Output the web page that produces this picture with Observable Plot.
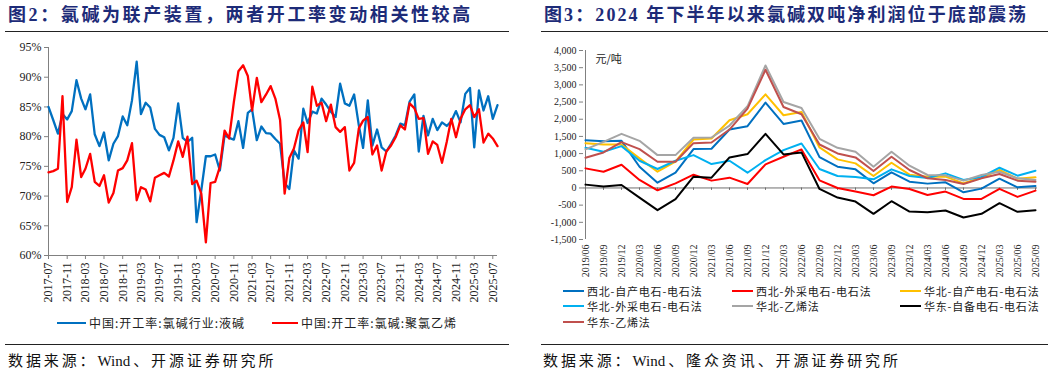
<!DOCTYPE html>
<html><head><meta charset="utf-8">
<script src="https://cdn.jsdelivr.net/npm/d3@7"></script>
<script src="https://cdn.jsdelivr.net/npm/@observablehq/plot@0.6"></script>
<style>
body{margin:0;background:#fff;width:1057px;height:374px;overflow:hidden;position:relative;font-family:"Liberation Serif","Noto Sans CJK SC",serif;}
.abs{position:absolute;}
.title{font-weight:bold;font-size:18px;line-height:20px;color:#1d2b78;white-space:nowrap;}
.hr{position:absolute;height:0;border-top:1.5px solid #222;}
.src{font-size:15px;line-height:18px;color:#111;letter-spacing:2.9px;white-space:nowrap;}
.src .lat{letter-spacing:0;margin-right:2.9px;}
.leg{font-size:12px;line-height:14px;color:#222;white-space:nowrap;display:flex;align-items:center;letter-spacing:1px;}
.leg2{font-size:11px;line-height:14px;color:#222;white-space:nowrap;display:flex;align-items:center;letter-spacing:0.8px;}
.sw{display:inline-block;height:2.5px;margin-right:3px;}
</style></head><body>
<div class="abs title" style="left:8px;top:5px;letter-spacing:2.6px">图2：氯碱为联产装置，两者开工率变动相关性较高</div>
<div class="hr" style="left:5px;top:31px;width:504px"></div>
<div class="abs title" style="left:544px;top:5px;letter-spacing:2.1px">图3：2024 年下半年以来氯碱双吨净利润位于底部震荡</div>
<div class="hr" style="left:541px;top:31px;width:507px"></div>
<div id="left" class="abs" style="left:0;top:40px"></div>
<div id="right" class="abs" style="left:535px;top:40px"></div>
<div id="leg1" class="abs" style="left:0;top:316px"></div>
<div id="leg2" class="abs" style="left:0;top:0"></div>
<div class="hr" style="left:5px;top:344px;width:504px"></div>
<div class="hr" style="left:541px;top:344px;width:507px"></div>
<div class="abs src" style="left:8px;top:352px">数据来源：<span class="lat">Wind</span>、开源证券研究所</div>
<div class="abs src" style="left:543px;top:352px">数据来源：<span class="lat">Wind</span>、隆众资讯、开源证券研究所</div>
<script>
// ---------- Left chart data (monthly, from 2017-07) ----------
const leftStart = "2017-07";
const liquidCaustic = [85.0,82.8,80.5,83.8,82.9,84.3,89.5,86.4,84.6,87.1,80.4,78.4,80.7,76.0,78.8,80.1,83.4,81.9,86.1,92.6,83.8,85.7,84.9,81.3,80.3,79.9,77.7,79.8,85.6,79.8,79.1,79.8,65.6,71.0,76.7,76.7,77.0,74.3,80.2,79.8,79.5,82.6,78.1,84.0,84.6,79.4,81.7,80.6,80.5,79.6,78.8,72.2,71.2,77.7,76.3,84.7,82.3,84.2,83.9,86.4,85.4,84.2,83.3,88.9,85.6,85.2,87.1,81.9,78.1,86.1,78.5,81.2,78.2,77.5,78.8,80.2,82.2,81.9,85.9,87.1,77.5,83.5,80.2,83.0,81.1,82.4,81.8,82.6,84.3,82.4,87.2,88.2,78.2,87.8,84.4,86.8,83.0,85.3];
const pvc = [74.0,74.2,74.6,86.8,69.0,71.5,79.5,73.2,74.6,77.1,72.4,71.7,73.5,68.9,70.5,74.3,74.7,76.0,78.9,69.3,71.5,71.1,69.1,73.1,73.5,73.9,73.3,76.0,79.2,76.6,80.0,72.0,72.6,70.4,62.2,72.2,72.4,74.9,81.0,79.7,85.8,91.0,92.0,90.2,84.4,89.9,85.8,87.1,88.5,86.4,82.8,70.4,76.4,78.0,81.1,82.4,77.4,88.4,85.2,85.7,82.6,85.4,81.6,80.8,81.6,74.3,75.6,81.4,82.7,83.3,77.0,78.5,74.3,77.5,78.5,79.9,81.9,81.2,85.6,84.8,83.0,83.1,77.1,79.2,78.6,75.6,79.1,83.0,79.9,83.0,84.6,85.3,83.3,84.6,79.0,80.5,79.7,78.4];
const leftNames = ["中国:开工率:氯碱行业:液碱","中国:开工率:氯碱:聚氯乙烯"];
const leftColors = ["#0070C0","#FF0000"];
const leftYTicks = [60,65,70,75,80,85,90,95];

// ---------- Right chart data (quarterly) ----------
const quarters = ["2019/06","2019/09","2019/12","2020/03","2020/06","2020/09","2020/12","2021/03","2021/06","2021/09","2021/12","2022/03","2022/06","2022/09","2022/12","2023/03","2023/06","2023/09","2023/12","2024/03","2024/06","2024/09","2024/12","2025/03","2025/06","2025/09"];
const nwOwn   = [1391,1362,1372,618,155,444,1130,1140,1700,1797,2483,1864,1961,898,618,541,135,454,184,126,164,-126,-19,270,19,58];
const nwBuy   = [570,473,676,232,-68,135,386,213,299,116,686,908,1121,222,0,-106,-213,39,-29,-203,-106,-319,-319,-29,-261,-77];
const ncOwn   = [1304,1265,1265,860,473,763,1410,1439,1971,2145,2724,2116,2212,1179,831,715,348,734,386,328,328,135,299,522,270,309];
const ncBuy   = [1169,1053,1217,792,551,792,956,696,792,444,811,1101,1294,551,348,319,251,541,348,290,425,232,319,589,357,502];
const ncEth   = [1121,1343,1575,1372,956,956,1459,1468,1816,2376,3565,2502,2328,1430,1169,1053,618,1053,647,377,367,213,377,473,280,232];
const ecOwn   = [97,39,87,-280,-647,-328,328,299,889,985,1575,976,1034,-29,-280,-396,-753,-386,-686,-705,-657,-860,-753,-444,-695,-647];
const ecEth   = [879,1034,1333,1130,763,763,1304,1323,1700,2309,3439,2357,2145,1265,1005,889,493,908,522,280,232,116,280,406,213,184];
const rightNames = ["西北-自产电石-电石法","西北-外采电石-电石法","华北-自产电石-电石法","华北-外采电石-电石法","华北-乙烯法","华东-自备电石-电石法","华东-乙烯法"];
const rightColors = ["#0070C0","#FF0000","#FFC000","#00B0F0","#A5A5A5","#000000","#C0504D"];
const rightValues = [nwOwn,nwBuy,ncOwn,ncBuy,ncEth,ecOwn,ecEth];
const rightYTicks = [-1500,-1000,-500,0,500,1000,1500,2000,2500,3000,3500,4000];
const unitLabel = "元/吨";

const serif = "'Liberation Serif','Times New Roman',serif";

// ---------- Left chart ----------
const [sy, sm] = leftStart.split("-").map(Number);
const t0 = new Date(Date.UTC(sy, sm - 1, 1));
const months = liquidCaustic.map((_, i) => d3.utcMonth.offset(t0, i));
const leftRows = [
  ...liquidCaustic.map((v, i) => ({d: months[i], v, s: leftNames[0]})),
  ...pvc.map((v, i) => ({d: months[i], v, s: leftNames[1]}))
];
const xTicks = months.filter((d, i) => i % 4 === 0 && i <= 96);
const left = Plot.plot({
  width: 510, height: 270,
  marginLeft: 48, marginRight: 13, marginTop: 7, marginBottom: 55,
  style: {fontFamily: serif, fontSize: "12px", color: "#222", background: "#fff"},
  x: {type: "utc", domain: [months[0], months[months.length - 1]], label: null},
  y: {domain: [60, 95], label: null},
  marks: [
    Plot.ruleY([60], {stroke: "#808080"}),
    Plot.ruleX([months[0]], {stroke: "#808080"}),
    Plot.axisY({ticks: leftYTicks, tickFormat: d => d + "%", tickSize: 4, tickPadding: 3, fontSize: 12, stroke: "#808080", label: null}),
    Plot.axisX({ticks: xTicks, tickFormat: d3.utcFormat("%Y-%m"), tickRotate: -90, tickSize: 4, tickPadding: 3, fontSize: 12, stroke: "#808080", label: null}),
    Plot.line(leftRows, {x: "d", y: "v", z: "s", stroke: "s", strokeWidth: 2.3})
  ],
  color: {domain: leftNames, range: leftColors}
});
document.getElementById("left").appendChild(left);

// ---------- Right chart ----------
const rightRows = rightValues.flatMap((vals, k) => vals.map((v, i) => ({q: quarters[i], v, s: rightNames[k]})));
const right = Plot.plot({
  width: 515, height: 240,
  marginLeft: 48, marginRight: 13, marginTop: 10, marginBottom: 41,
  style: {fontFamily: serif, fontSize: "10px", color: "#222", background: "transparent"},
  x: {type: "point", domain: quarters, padding: 0, label: null},
  y: {domain: [-1500, 4000], label: null},
  color: {domain: rightNames, range: rightColors},
  marks: [
    Plot.ruleX([quarters[0]], {stroke: "#808080"}),
    Plot.ruleY([0], {stroke: "#6e6e6e"}),
    Plot.ruleX(quarters, {y1: 0, y2: -70, stroke: "#6e6e6e"}),
    Plot.axisY({ticks: rightYTicks, tickFormat: d => d3.format(",")(d).replace("\u2212", "-"), tickSize: 4, tickPadding: 3, fontSize: 10, stroke: "#808080", label: null}),
    Plot.axisX({tickRotate: -90, tickSize: 0, tickPadding: 5, fontSize: 10, label: null}),
    Plot.line(rightRows, {x: "q", y: "v", z: "s", stroke: "s", strokeWidth: 2}),
    Plot.text([unitLabel], {frameAnchor: "top-left", dx: 12, dy: 5, fontSize: 11, fontFamily: "'Noto Sans CJK SC',sans-serif", fill: "#222", textAnchor: "start"})
  ]
});
document.getElementById("right").appendChild(right);

// ---------- Legends ----------
const leg1 = document.getElementById("leg1");
const l1pos = [{sw: 57, w: 29}, {sw: 272, w: 26}];
leftNames.forEach((n, k) => {
  const div = document.createElement("div");
  div.className = "abs leg";
  div.style.left = l1pos[k].sw + "px";
  div.style.top = "0px";
  div.innerHTML = `<span class="sw" style="width:${l1pos[k].w}px;background:${leftColors[k]}"></span><span style="font-family:'Noto Sans CJK SC',sans-serif">${n}</span>`;
  leg1.appendChild(div);
});
const leg2 = document.getElementById("leg2");
const colX = [563, 732, 900];
const rowY = [284, 299, 315];
rightNames.forEach((n, k) => {
  const div = document.createElement("div");
  div.className = "abs leg2";
  div.style.left = colX[k % 3] + "px";
  div.style.top = rowY[Math.floor(k / 3)] + "px";
  div.innerHTML = `<span class="sw" style="width:21px;background:${rightColors[k]}"></span><span style="font-family:'Noto Sans CJK SC',sans-serif">${n}</span>`;
  leg2.appendChild(div);
});
</script>
</body></html>
